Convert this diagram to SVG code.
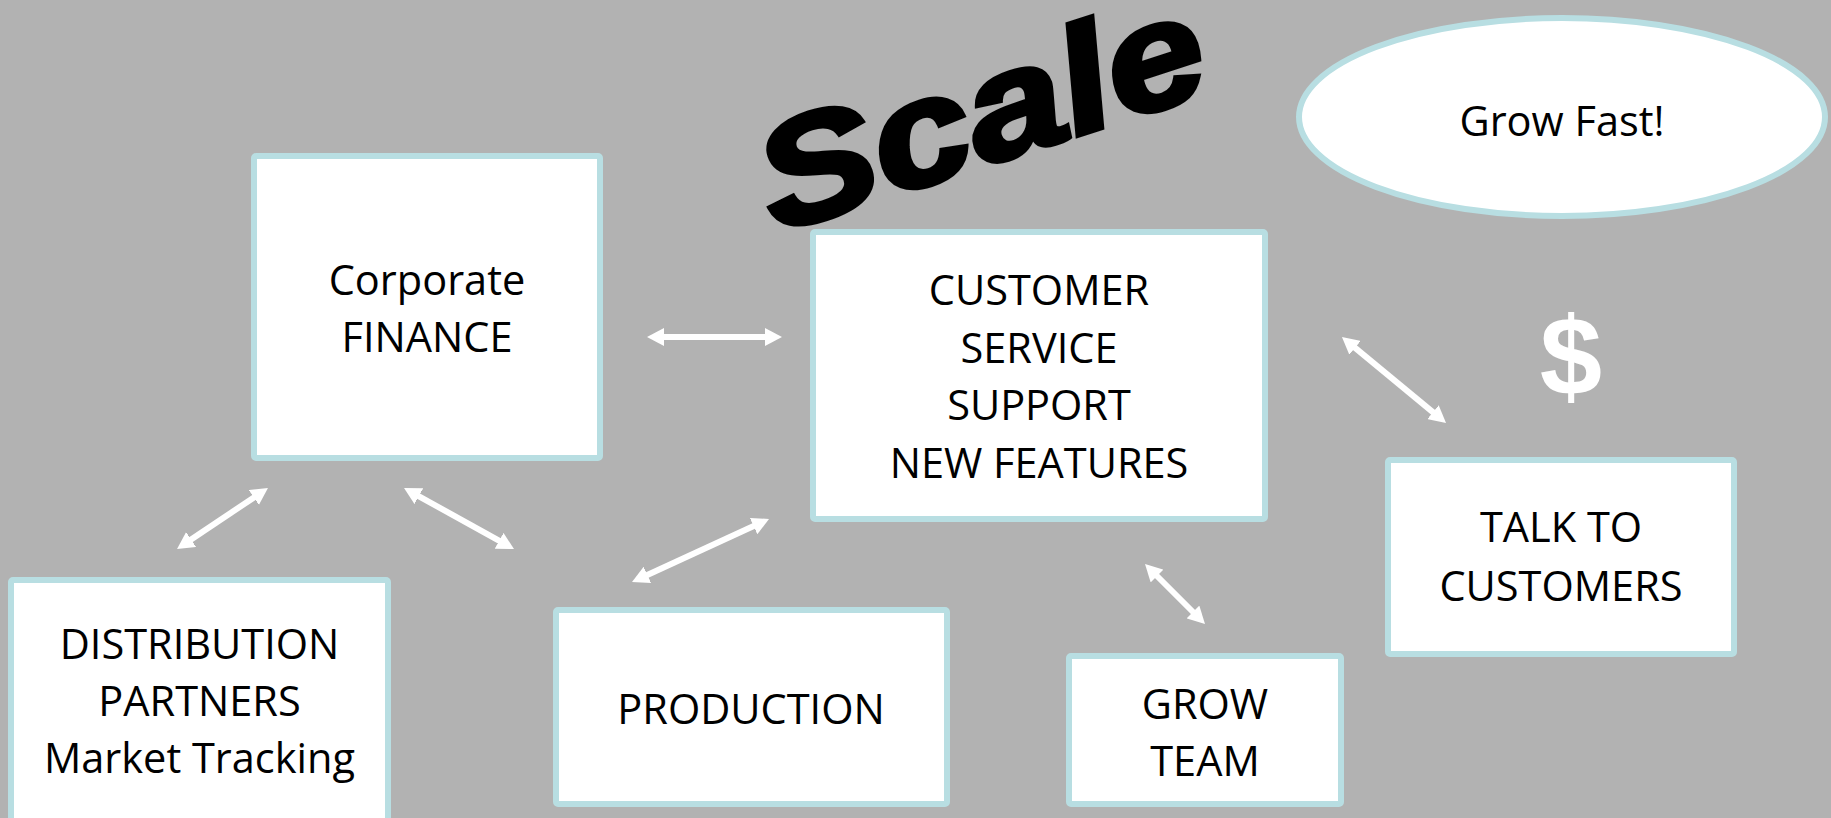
<svg xmlns="http://www.w3.org/2000/svg" width="1831" height="818" viewBox="0 0 1831 818">
<defs>
<style>
.box{fill:#FFFFFF;stroke:#B8DEE2;stroke-width:6}
.lbl{font-family:"Open Sans","Liberation Sans",sans-serif;font-size:41.5px;fill:#000;text-anchor:middle}
.conn{stroke:#FFFFFF;stroke-width:6;fill:none;marker-start:url(#ah);marker-end:url(#ah)}
</style>
<marker id="ah" markerUnits="userSpaceOnUse" markerWidth="17" markerHeight="18" viewBox="0 0 17 18" refX="5" refY="9" orient="auto-start-reverse">
<path d="M0,0 L17,9 L0,18 Z" fill="#FFFFFF"/>
</marker>
</defs>
<rect x="0" y="0" width="1831" height="818" fill="#B2B2B2"/>

<g id="title-scale">
<text x="0" y="0" transform="translate(996,162) rotate(-18)" text-anchor="middle" font-family="'Liberation Sans',Arial,sans-serif" font-size="150" font-weight="bold" font-style="italic" fill="#000" stroke="#000" stroke-width="5" textLength="462" lengthAdjust="spacingAndGlyphs">Scale</text>
</g>

<g id="node-growfast">
<ellipse cx="1562" cy="117" rx="263" ry="99" class="box"/>
<text class="lbl" x="1562" y="136">Grow Fast!</text>
</g>

<g id="dollar">
<text x="1571" y="395" text-anchor="middle" font-family="'Liberation Sans',Arial,sans-serif" font-size="112" font-weight="bold" fill="#FFFFFF">$</text>
</g>

<g id="node-finance">
<rect x="254" y="156" width="346" height="302" rx="2" class="box"/>
<text class="lbl" x="427" y="295">Corporate</text>
<text class="lbl" x="427" y="352">FINANCE</text>
</g>

<g id="node-customer">
<rect x="813" y="232" width="452" height="287" rx="2" class="box"/>
<text class="lbl" x="1039" y="305">CUSTOMER</text>
<text class="lbl" x="1039" y="362.5">SERVICE</text>
<text class="lbl" x="1039" y="420">SUPPORT</text>
<text class="lbl" x="1039" y="477.5">NEW FEATURES</text>
</g>

<g id="node-talk">
<rect x="1388" y="460" width="346" height="194" rx="2" class="box"/>
<text class="lbl" x="1561" y="542">TALK TO</text>
<text class="lbl" x="1561" y="601">CUSTOMERS</text>
</g>

<g id="node-distribution">
<rect x="11" y="580" width="377" height="260" rx="2" class="box"/>
<text class="lbl" x="199.5" y="659">DISTRIBUTION</text>
<text class="lbl" x="199.5" y="716">PARTNERS</text>
<text class="lbl" x="199.5" y="773">Market Tracking</text>
</g>

<g id="node-production">
<rect x="556" y="610" width="391" height="194" rx="2" class="box"/>
<text class="lbl" x="751" y="724">PRODUCTION</text>
</g>

<g id="node-growteam">
<rect x="1069" y="656" width="272" height="148" rx="2" class="box"/>
<text class="lbl" x="1205" y="719">GROW</text>
<text class="lbl" x="1205" y="776">TEAM</text>
</g>

<g id="connectors">
<line class="conn" x1="659" y1="337" x2="770" y2="337"/>
<line class="conn" x1="1351.2" y1="344.6" x2="1436.8" y2="415.4"/>
<line class="conn" x1="187" y1="542.3" x2="258" y2="494.7"/>
<line class="conn" x1="414.5" y1="493.8" x2="503.5" y2="543.2"/>
<line class="conn" x1="1153.5" y1="572.5" x2="1196.5" y2="615.5"/>
<line class="conn" x1="642.9" y1="577" x2="758.1" y2="524"/>
</g>
</svg>
